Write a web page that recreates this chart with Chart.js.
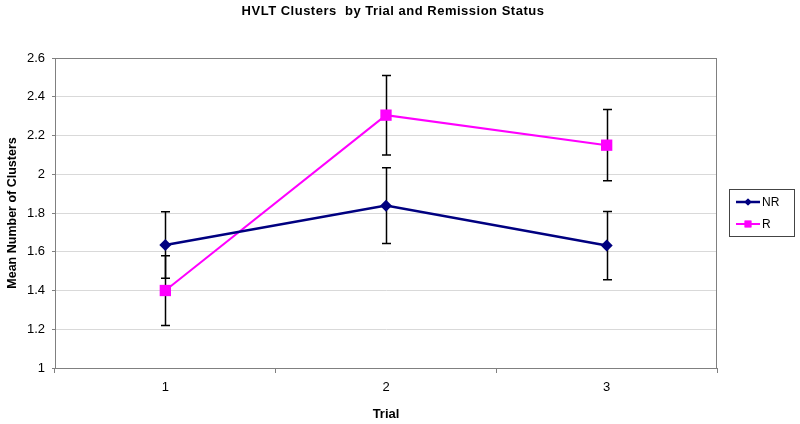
<!DOCTYPE html>
<html>
<head>
<meta charset="utf-8">
<script src="https://cdn.jsdelivr.net/npm/chart.js@4.4.1/dist/chart.umd.min.js"></script>
<style>
html,body{margin:0;padding:0;background:#fff;}
</style>
</head>
<body>
<canvas id="myChart" width="800" height="424"></canvas>
<script>
// data
const trials=['1','2','3'];
const nrMeans=[1.635,1.838,1.632];
const nrErrors=[0.172,0.195,0.176];
const rMeans=[1.40,2.305,2.15];
const rErrors=[0.18,0.205,0.184];
const yMin=1, yMax=2.6, yStep=0.2;

const FONT='"Liberation Sans", Arial, sans-serif';

// error bars drawn under the lines and markers
const errorBars={
  id:'errorBars',
  beforeDatasetsDraw(chart){
    const ctx=chart.ctx;
    const y=chart.scales.y;
    const a=chart.chartArea;
    ctx.save();
    // plot area frame
    ctx.strokeStyle='#808080';
    ctx.lineWidth=1;
    ctx.strokeRect(a.left+0.5,a.top+0.5,a.right-a.left-1,a.bottom-a.top);
    ctx.strokeStyle='#000';
    ctx.lineWidth=1.5;
    chart.data.datasets.forEach((ds,i)=>{
      const meta=chart.getDatasetMeta(i);
      meta.data.forEach((pt,j)=>{
        const top=y.getPixelForValue(ds.data[j]+ds.errors[j]);
        const bot=y.getPixelForValue(ds.data[j]-ds.errors[j]);
        const x=Math.round(pt.x)+0.5;
        ctx.beginPath();
        ctx.moveTo(x,top);ctx.lineTo(x,bot);
        ctx.moveTo(x-4.5,top);ctx.lineTo(x+4.5,top);
        ctx.moveTo(x-4.5,bot);ctx.lineTo(x+4.5,bot);
        ctx.stroke();
      });
    });
    ctx.restore();
  }
};

// chart title and boxed legend, Excel style
const decorations={
  id:'decorations',
  afterDraw(chart){
    const ctx=chart.ctx;
    ctx.save();
    ctx.fillStyle='#000';
    ctx.font='bold 13px '+FONT;
    ctx.letterSpacing='0.5px';
    ctx.textAlign='center';
    ctx.textBaseline='alphabetic';
    ctx.fillText('HVLT Clusters  by Trial and Remission Status',393,15);
    ctx.letterSpacing='0px';

    ctx.strokeStyle='#444';
    ctx.lineWidth=1;
    ctx.strokeRect(729.5,189.5,65,47);
    ctx.font='12px '+FONT;
    ctx.textAlign='left';
    ctx.textBaseline='middle';
    chart.data.datasets.forEach((ds,i)=>{
      const ly=202+i*22;
      ctx.strokeStyle=ds.borderColor;
      ctx.lineWidth=ds.borderWidth;
      ctx.beginPath();ctx.moveTo(736,ly);ctx.lineTo(760,ly);ctx.stroke();
      ctx.fillStyle=ds.borderColor;
      Chart.helpers.drawPoint(ctx,{pointStyle:ds.pointStyle,rotation:0,radius:ds.pointRadius*0.6,borderWidth:0},748,ly);
      ctx.fill();
      ctx.fillStyle='#000';
      ctx.fillText(ds.label,762,ly+1);
    });
    ctx.restore();
  }
};

new Chart(document.getElementById('myChart'),{
  type:'line',
  data:{
    labels:trials,
    datasets:[{
      label:'NR',
      data:nrMeans,
      errors:nrErrors,
      borderColor:'#000080',
      backgroundColor:'#000080',
      borderWidth:2.5,
      pointStyle:'rectRot',
      pointRadius:6,
      pointBorderWidth:0,
      tension:0
    },{
      label:'R',
      data:rMeans,
      errors:rErrors,
      borderColor:'#FF00FF',
      backgroundColor:'#FF00FF',
      borderWidth:2,
      pointStyle:'rect',
      pointRadius:8,
      pointBorderWidth:0,
      tension:0
    }]
  },
  options:{
    responsive:false,
    animation:false,
    layout:{padding:{left:0,top:58,right:83,bottom:0}},
    plugins:{
      legend:{display:false},
      title:{display:false},
      tooltip:{enabled:false}
    },
    scales:{
      x:{
        offset:true,
        grid:{offset:true,drawOnChartArea:false,color:'#808080',tickLength:5},
        border:{color:'#808080'},
        ticks:{color:'#000',font:{family:FONT,size:13},padding:7},
        title:{display:true,text:'Trial',color:'#000',font:{family:FONT,size:13,weight:'bold'},padding:{bottom:2}},
        afterFit(scale){scale.height=56;}
      },
      y:{
        min:yMin,
        max:yMax,
        grid:{color:'#d9d9d9',tickColor:'#808080',tickLength:3},
        border:{color:'#808080'},
        ticks:{
          stepSize:yStep,
          color:'#000',
          font:{family:FONT,size:13},
          padding:7,
          callback:v=>String(+v.toFixed(1))
        },
        title:{display:true,text:'Mean Number of Clusters',color:'#000',font:{family:FONT,size:12.5,weight:'bold'},padding:{top:5}},
        afterFit(scale){scale.width=55;}
      }
    }
  },
  plugins:[errorBars,decorations]
});
</script>
</body>
</html>
